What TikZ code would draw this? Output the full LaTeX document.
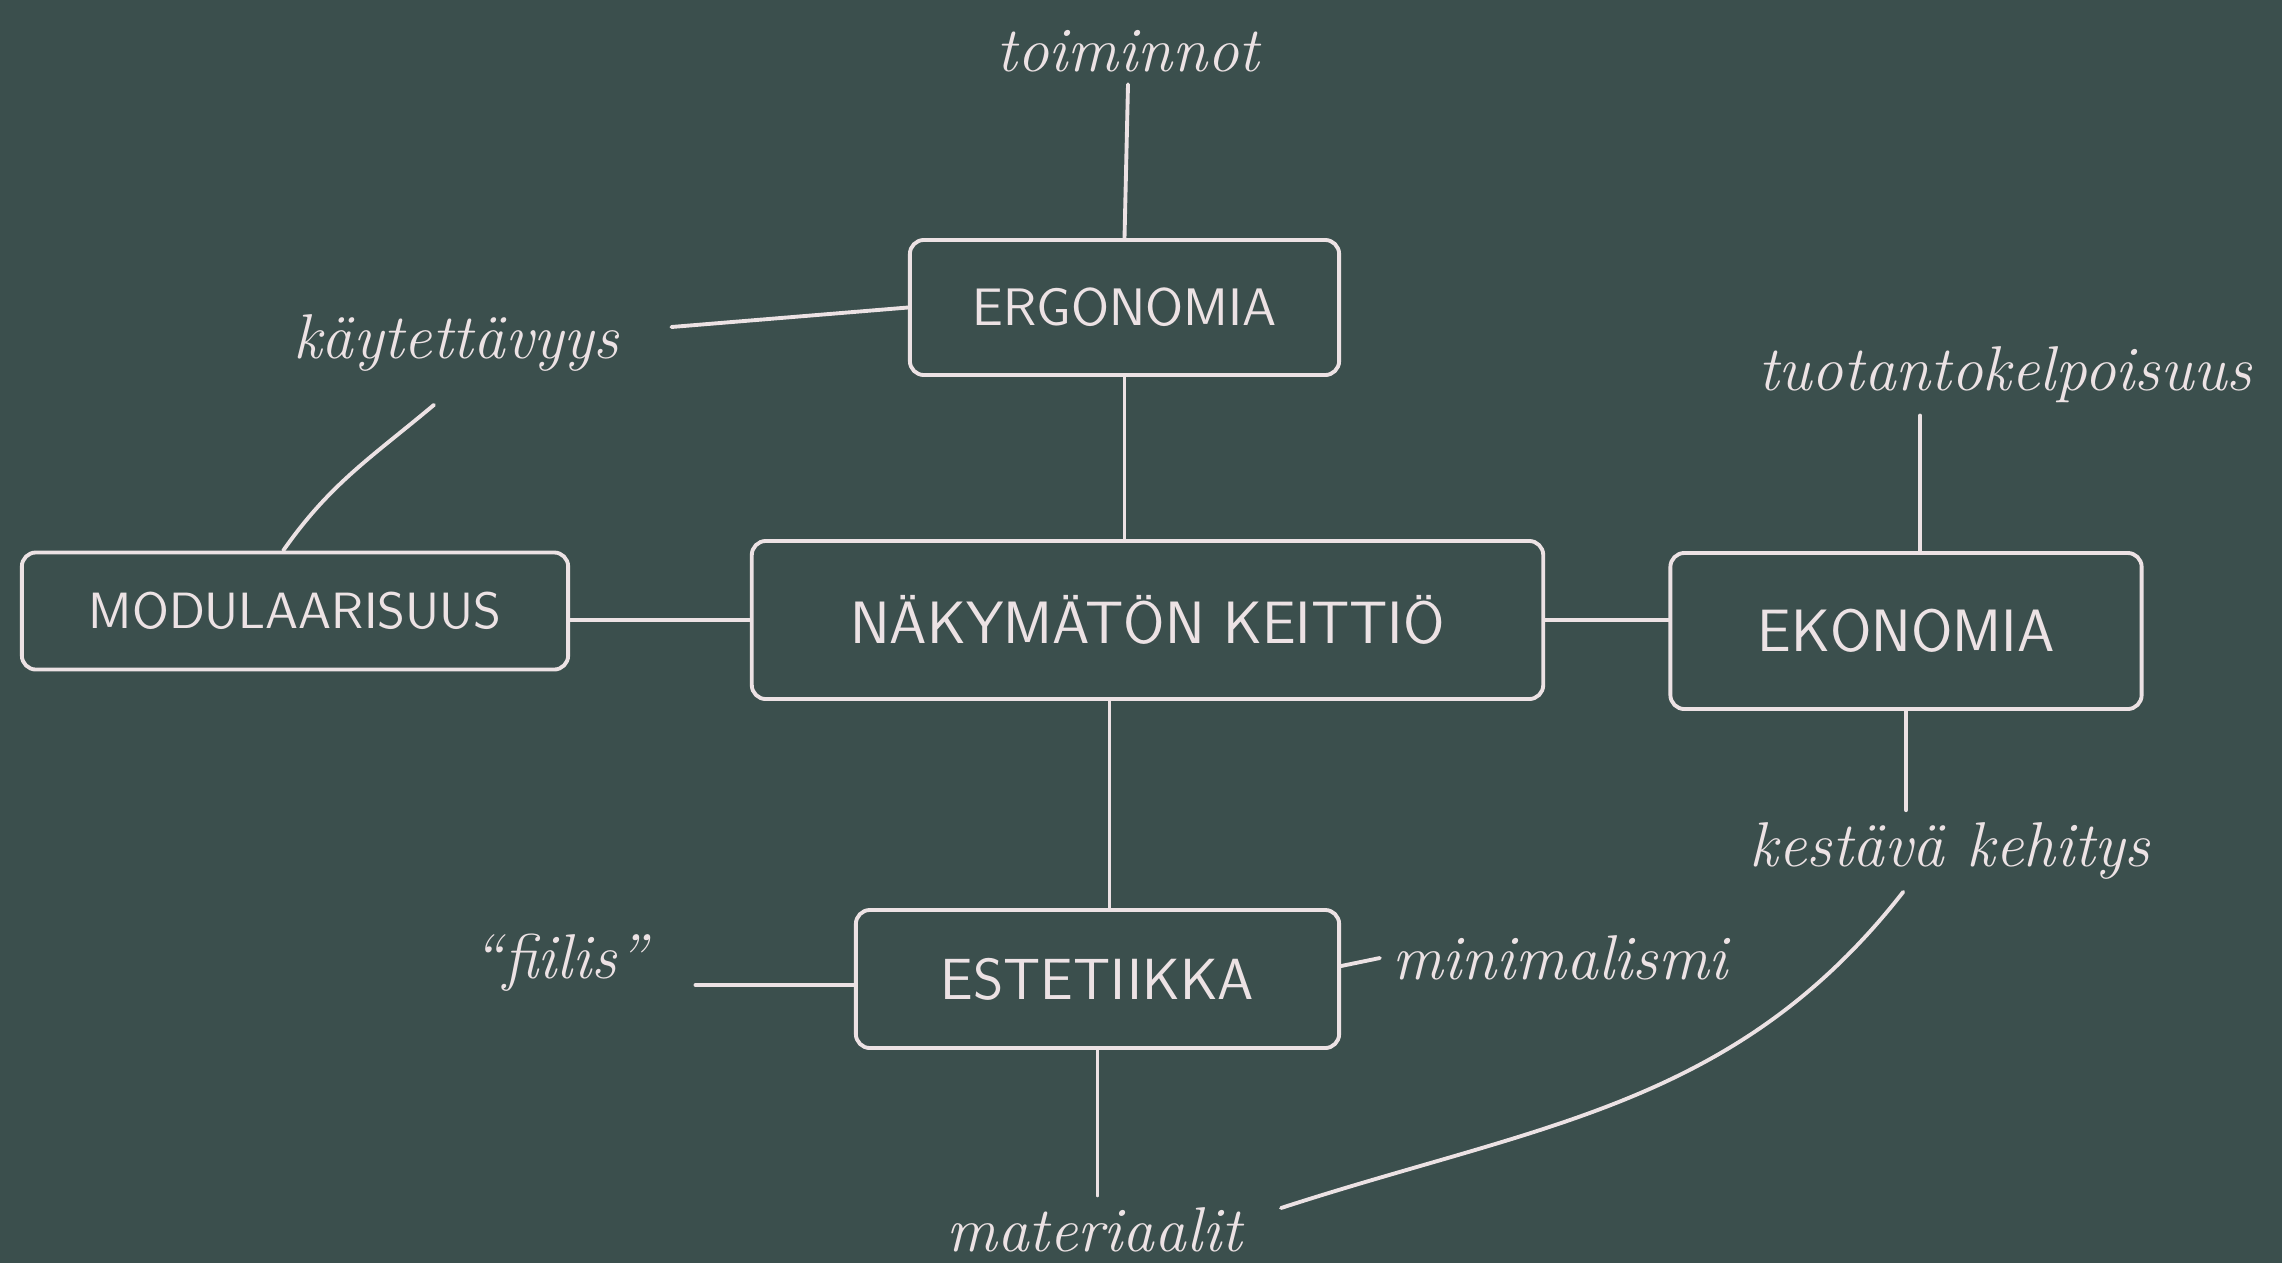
\documentclass[tikz,border=0pt]{standalone}
\usepackage{tikz}
\usetikzlibrary{calc}
\definecolor{board}{RGB}{59,79,77}
\definecolor{chalk}{RGB}{236,226,228}
\tikzset{
 topic/.style={draw=chalk, line width=1.1pt, rounded corners=4pt, text=chalk, font=\sffamily},
 note/.style={text=chalk, font=\fontsize{18}{20}\selectfont\itshape},
 link/.style={chalk, line width=1.1pt, line cap=round}
}

\begin{document}
\begin{tikzpicture}[x=0.01cm, y=0.01cm]
\fill[board] (0,0) rectangle (2282,-1263);
\useasboundingbox (0,0) rectangle (2282,-1263);
% boxes
\node[topic, minimum width=4.29cm, minimum height=1.35cm, font=\sffamily\fontsize{15}{17}\selectfont] (ergo) at (1124.5,-307.5) {ERGONOMIA};
\node[topic, minimum width=5.46cm, minimum height=1.17cm, font=\sffamily\fontsize{14.5}{17}\selectfont] (modu) at (295,-611) {MODULAARISUUS};
\node[topic, minimum width=7.91cm, minimum height=1.58cm, font=\sffamily\fontsize{17}{19}\selectfont] (main) at (1147.5,-620) {NÄKYMÄTÖN KEITTIÖ};
\node[topic, minimum width=4.71cm, minimum height=1.56cm, font=\sffamily\fontsize{17}{19}\selectfont] (ekon) at (1906,-631) {EKONOMIA};
\node[topic, minimum width=4.83cm, minimum height=1.38cm, font=\sffamily\fontsize{16.5}{19}\selectfont] (este) at (1097.5,-979) {ESTETIIKKA};
% labels
\node[note] (toim) at (1128,-51) {toiminnot};
\node[note] (kayt) at (456,-343) {käytettävyys};
\node[note] (tuot) at (2005,-375) {tuotantokelpoisuus};
\node[note] (kest) at (1950,-851) {kestävä kehitys};
\node[note] (fiil) at (560,-963) {``fiilis''};
\node[note] (mini) at (1560,-958) {minimalismi};
\node[note] (mate) at (1094,-1230) {materiaalit};
% links
\draw[link] (ergo.north) -- (toim.south);
\draw[link] (ergo.south) -- (ergo.south |- main.north);
\draw[link] (este.north) ++(12,0) coordinate (mtop) -- (mtop |- main.south);
\draw[link] (este.south) -- (este.south |- mate.north);
\draw[link] (main.west) -- (main.west -| modu.east);
\draw[link] (main.east) -- (main.east -| ekon.west);
\draw[link] (ekon.80) -- (ekon.80 |- tuot.south);
\draw[link] (ekon.south) -- (ekon.south |- kest.north);
\draw[link] ($(kayt.east)+(40,16)$) -- (ergo.west);
\draw[link] ($(kayt.south)+(-22,-21)$) to[out=-140, in=55] (modu.101);
\draw[link] ($(kest.south)!0.22!(kest.south west)$) to[out=-128, in=18] ($(mate.east)+(27,22)$);
\draw[link] ($(este.west)+(0,-6)$) -- ($(fiil.east)+(36,-22)$);
\draw[link] ($(este.east)+(0,13)$) -- (mini.west);
\end{tikzpicture}
\end{document}
